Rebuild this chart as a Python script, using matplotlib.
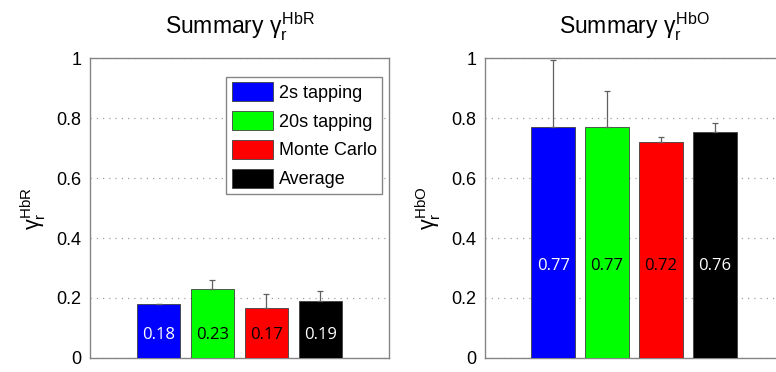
import matplotlib
matplotlib.use("Agg")
import matplotlib.pyplot as plt
import numpy as np
from matplotlib.patches import Patch

plt.rcParams['font.family'] = ['Liberation Sans', 'DejaVu Sans']
plt.rcParams['mathtext.fontset'] = 'custom'
plt.rcParams['mathtext.rm'] = 'Liberation Sans'
plt.rcParams['mathtext.it'] = 'Liberation Sans'
plt.rcParams['mathtext.bf'] = 'Liberation Sans:bold'

series = ["2s tapping", "20s tapping", "Monte Carlo", "Average"]
colors = ["#0000ff", "#00ff00", "#ff0000", "#000000"]
label_colors = ["white", "black", "black", "white"]

hbr_values = [0.18, 0.23, 0.167, 0.191]
hbr_errors = [0.0, 0.03, 0.045, 0.033]
hbr_labels = ["0.18", "0.23", "0.17", "0.19"]

hbo_values = [0.771, 0.771, 0.721, 0.753]
hbo_errors = [0.221, 0.119, 0.016, 0.029]
hbo_labels = ["0.77", "0.77", "0.72", "0.76"]

yticks = [0, 0.2, 0.4, 0.6, 0.8, 1]
yticklabels = ["0", "0.2", "0.4", "0.6", "0.8", "1"]

W, H = 776, 372
fig = plt.figure(figsize=(W / 100, H / 100), dpi=100)

def px_axes(left, top, right, bottom):
    return fig.add_axes([left / W, 1 - bottom / H, (right - left) / W, (bottom - top) / H])

ax1 = px_axes(90, 58, 389, 358)
ax2 = px_axes(485, 58, 783, 358)

spine_col = "#858585"
x = np.arange(1, 5)
half = 299 / 54 / 2

def draw(ax, vals, errs, labels, title, ylab, label_y):
    ax.bar(x, vals, width=0.81, color=colors, edgecolor="#404040", linewidth=0.6, zorder=3)
    ax.errorbar(x, vals, yerr=[np.zeros(len(errs)), errs], fmt="none", ecolor="#606060",
                elinewidth=0.9, capsize=2.5, capthick=0.9, zorder=4)
    for xi, lab, lc in zip(x, labels, label_colors):
        ax.text(xi, label_y, lab, ha="center", va="center", color=lc, fontsize=12,
                family="Open Sans", zorder=5)
    ax.set_xlim(2.5 - half, 2.5 + half)
    ax.set_ylim(0, 1)
    ax.set_xticks([])
    ax.set_yticks(yticks)
    ax.set_yticklabels(yticklabels, fontsize=13)
    ax.tick_params(axis="y", length=0, pad=6)
    for s in ax.spines.values():
        s.set_color(spine_col)
        s.set_linewidth(1.0)
    ax.yaxis.grid(True, linestyle=(0, (1, 4)), color="#a0a0a0", linewidth=0.9, zorder=0)
    ax.set_axisbelow(True)
    ax.set_title(title, fontsize=16.5, pad=17)
    ax.set_ylabel(ylab, fontsize=15.5, labelpad=6)

draw(ax1, hbr_values, hbr_errors, hbr_labels,
     r"Summary $\gamma_{\mathrm{r}}^{\mathrm{HbR}}$",
     r"$\gamma_{\mathrm{r}}^{\mathrm{HbR}}$", 0.077)
draw(ax2, hbo_values, hbo_errors, hbo_labels,
     r"Summary $\gamma_{\mathrm{r}}^{\mathrm{HbO}}$",
     r"$\gamma_{\mathrm{r}}^{\mathrm{HbO}}$", 0.307)

handles = [Patch(facecolor=c, edgecolor="#404040", linewidth=0.6) for c in colors]
leg = ax1.legend(handles, series, loc="upper right", bbox_to_anchor=(0.977, 0.937),
                 borderaxespad=0, fontsize=13, handlelength=2.3, handleheight=1.2,
                 labelspacing=0.53, handletextpad=0.3, borderpad=0.3, fancybox=False,
                 framealpha=1, edgecolor=spine_col)
leg.get_frame().set_linewidth(1.0)

fig.savefig("out.png", dpi=100)
